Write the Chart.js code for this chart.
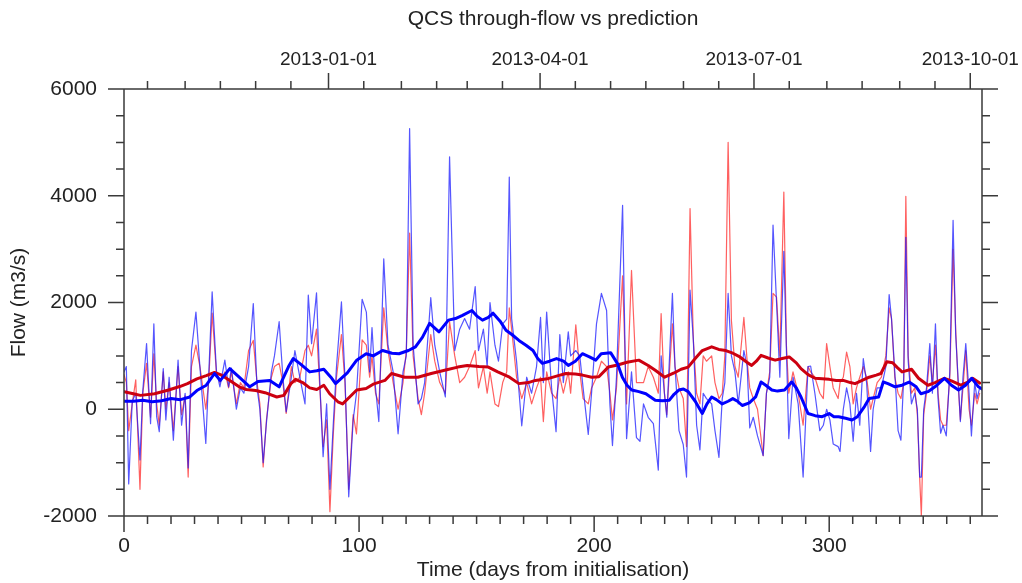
<!DOCTYPE html>
<html>
<head>
<meta charset="utf-8">
<title>QCS through-flow vs prediction</title>
<script src="https://cdn.jsdelivr.net/npm/chart.js@4.4.1/dist/chart.umd.min.js"></script>
<style>
  html, body { margin: 0; padding: 0; background: #fff; }
  #wrap { position: relative; width: 1022px; height: 583px; }
</style>
</head>
<body>
<div id="wrap"><canvas id="flow-chart"></canvas></div>
<script>
// Daily values (days from initialisation)
const dailyDays = [
  0, 1, 2, 3.5, 5, 6.8, 8, 9.6, 11.3, 12.7, 13.9, 15, 16.7, 17.8, 19.2, 21, 23, 24.5, 26, 27.3,
  28.7, 30.6, 32.3, 34.8, 36, 37.5, 39.3, 40.8, 42.9, 44.5, 45.7, 47.8, 49.5, 51, 53, 55, 56.6, 57.8, 59.2, 60.6,
  62.7, 64, 66, 67.6, 69, 71.2, 72.7, 74.8, 77, 78.4, 79.8, 81.9, 83.3, 84.7, 86.2, 87.6, 89, 90.4, 92.5, 94,
  95.6, 97.5, 98.9, 101.3, 103.1, 104.5, 105.5, 107, 108.4, 110.5, 112.3, 114.5, 116.6, 118.7, 120.1, 121.5, 123, 125.1, 126.5, 127.9,
  130.5, 132.2, 134.3, 136.7, 138.5, 140.7, 142.8, 144.9, 147, 149.4, 150.8, 152.9, 154.5, 155.7, 157.8, 159.3, 161.1, 162.8, 163.9, 164.9,
  167, 169.2, 171.3, 173.4, 175.5, 177.2, 178.4, 179.8, 181.9, 183.8, 185.4, 186.9, 189, 190, 192.2, 193.9, 195.3, 197.5, 198.9, 201,
  203.1, 205.3, 206.7, 207.8, 209.5, 212.1, 213.8, 215.9, 218, 219.5, 221, 223, 225.2, 227.3, 228.5, 229.9, 230.9, 233.3, 234.4, 236.1,
  237.9, 239.3, 240.8, 242.2, 243.6, 245, 246.4, 247.8, 250, 251.4, 253.1, 254.5, 255.6, 257, 258.4, 259.9, 261.3, 263.7, 265.1, 266.2,
  267.7, 269.5, 271.9, 273.3, 274.7, 276.1, 277.6, 279, 280.7, 281.8, 282.8, 284.6, 286.8, 288.9, 291, 292.1, 293.9, 296, 297.5, 298.9,
  300.3, 301.7, 303.8, 304.6, 306, 307.4, 308.8, 310.2, 311.6, 313, 314.5, 315.9, 317.6, 318.7, 320.4, 322.2, 324.1, 325.5, 326.5, 327.9,
  329.3, 330.5, 331.7, 332.6, 333.6, 335, 336.4, 337.5, 338.5, 339.2, 340.2, 341.4, 342.8, 343.9, 345.2, 346.3, 347.4, 348.4, 349.8, 351.3,
  352.7, 353.8, 354.8, 355.8, 356.9, 358.1, 359.5, 360.5, 361.9, 362.9, 364
];

// thin blue line
const observedFlow = [
  700, 800, -1400, 150, 300, -950, 350, 1230, -270, 1600, -140, -420, 760, -200, 600, -580, 920, -300, 300, -1100,
  1100, 1820, 790, -640, 600, 2200, 730, 420, 920, 420, 770, 0, 400, 300, 800, 1980, 400, 0, -1000, -250,
  700, 1000, 1640, 600, -50, 600, 1100, 600, 100, 2140, 1230, 2180, 500, -890, 100, -1500, -300, 800, 2010, 600,
  -1640, -200, 300, 2060, 1820, 700, 1530, 400, -230, 2820, 1200, 700, -460, 700, 1000, 5260, 1200, 100, 200, 500,
  2090, 1200, 700, 230, 4730, 1100, 1500, 1700, 1500, 2300, 1100, 1500, 800, 2000, 1200, 900, 1600, 1690, 4350, 1700,
  900, -310, 600, 300, 800, 1720, 500, 1820, 400, -420, 1400, 500, 1450, 1000, 1100, 1000, 400, -470, 300, 1600,
  2170, 1850, 100, -680, 600, 3820, -550, 700, -530, -600, 100, -150, -270, -1140, 1000, 300, -150, 2170, 800, -400,
  -660, -1270, 2230, 1300, -300, -760, 300, 200, 100, -400, -900, 200, 500, 2170, 1000, 700, 100, 1100, 800, -350,
  -150, -500, -870, 300, 600, 3450, 2000, 600, 2960, 1100, -550, 600, 100, -1270, 800, 810, 300, -400, -300, 0,
  -200, -650, -700, -790, 0, 400, 100, -600, 300, -300, 950, 500, -790, 0, 400, 400, 800, 2150, 1700, 700,
  -400, -580, 600, 3220, 900, 100, 300, 0, -1270, -1270, 0, 400, 1230, 300, 1600, 200, -450, -300, -500, 700,
  3540, 1400, 600, -230, 600, 1230, 300, -500, 500, 200, 400
];

// thin red line
const predictedFlow = [
  650, 500, -400, 100, 550, -1500, 300, 860, -150, 1040, 100, -300, 700, 0, 500, -400, 800, -100, 250, -1270,
  800, 1200, 800, 0, 500, 1800, 700, 500, 700, 400, 700, 100, 500, 400, 1100, 1290, 500, 100, -1080, -200,
  600, 800, 860, 500, -80, 800, 500, 600, 1100, 1200, 1000, 1500, 400, -700, -200, -1920, -500, 600, 1400, 500,
  -1500, -100, -460, 1300, 1200, 600, 1000, 300, 100, 1900, 1100, 500, 0, 500, 1100, 3300, 1000, 200, -100, 300,
  1400, 900, 500, 300, 1640, 1000, 500, 600, 800, 1100, 400, 800, 300, 700, 100, 50, 500, 700, 1900, 1500,
  600, 200, 500, 100, 400, 600, -230, 700, 300, 200, 600, 300, 700, 300, 1580, 700, 200, 100, 400, 600,
  900, 800, 300, -200, 400, 2500, 100, 2600, 500, 500, 500, 800, 600, 300, 1790, 300, -100, 1600, 800, 400,
  200, -700, 3760, 1300, 300, 100, 1000, 900, 1000, 500, 200, 300, 1000, 5000, 1660, 800, 600, 1720, 900, 400,
  200, 0, -870, 300, 700, 2170, 2100, 1000, 4070, 1200, 300, 700, 300, -300, 800, 700, 600, 300, 200, 1230,
  800, 400, 200, 500, 600, 1070, 800, 100, 400, 600, 800, 600, 0, 200, 500, 600, 1000, 1900, 1700, 600,
  300, 200, 500, 3990, 1000, 300, 400, -100, -1300, -2000, -100, 300, 1000, 500, 1200, 300, -200, -300, -300, 600,
  3000, 1500, 500, -200, 400, 1100, 0, -300, 300, 100, 300
];

// thick blue line (running mean)
const meanObsDays = [
  0, 4, 8, 12, 16, 20, 24, 28, 31, 35, 38.5, 41, 45, 49, 53.5, 57, 62, 66, 70, 72,
  75, 79, 82, 85, 88, 90, 93, 95, 99, 103, 106, 110, 114, 117, 121, 124, 127, 130, 134, 138,
  141, 144, 148, 150, 152.5, 155, 157, 160, 162.5, 165, 168, 171, 174, 176, 178, 181, 184, 187, 189, 192,
  195, 198, 200.7, 203, 207, 210, 212, 214, 216, 219, 222, 224, 226, 229, 232, 234, 236, 238, 240, 243,
  246, 248, 250, 252, 254.5, 257, 259, 261, 263, 266, 268.7, 271, 273, 275.6, 278, 281, 284, 286, 288, 291,
  294, 297, 300, 302, 304, 307, 309.7, 312, 315, 317, 321, 323, 325, 328, 331, 334, 337, 339, 342, 345,
  349, 352, 355, 358, 360.6, 363.5, 365
];
const meanObsFlow = [
  150, 150, 170, 140, 160, 200, 180, 230, 350, 450, 670, 540, 760, 600, 420, 520, 540, 420, 800, 950,
  850, 700, 720, 750, 600, 480, 600, 680, 920, 1040, 1000, 1100, 1050, 1040, 1100, 1170, 1350, 1610, 1450, 1670,
  1700, 1760, 1850, 1750, 1670, 1720, 1800, 1650, 1480, 1400, 1290, 1200, 1100, 950, 860, 900, 950, 900, 820, 900,
  1040, 980, 920, 1040, 1060, 850, 600, 450, 360, 330, 290, 230, 170, 160, 170, 280, 360, 380, 330, 150,
  -80, 100, 230, 180, 100, 150, 200, 150, 70, 120, 230, 510, 450, 360, 340, 360, 510, 400, 230, -80,
  -120, -140, -80, -140, -140, -170, -200, -140, 50, 200, 230, 510, 480, 420, 450, 510, 420, 290, 330, 420,
  580, 450, 360, 450, 580, 420, 380
];

// thick red line (running mean)
const meanPredDays = [
  0, 4, 7, 13, 19, 24, 27, 31, 35, 38.5, 41, 45, 49, 52, 56, 60, 65, 68, 71, 73,
  76, 79, 82, 85, 87.5, 91, 93, 96, 99, 103, 106, 111, 113.8, 119.4, 125, 130.7, 136.4, 142, 146, 151,
  155, 159, 164, 168, 172, 175, 180, 184, 188, 192, 195, 199, 202, 206, 210, 214, 219, 223, 226, 230,
  234, 237, 240, 243, 246, 250, 253, 256, 259, 262, 265, 267, 269, 271, 274, 277, 280, 283, 286, 288,
  291, 294, 297, 300, 303, 306, 309, 311, 314, 317, 320, 322, 324.5, 327, 329, 331, 335, 338, 342, 345,
  349, 352, 356, 359, 361, 364
];
const meanPredFlow = [
  330, 290, 260, 290, 360, 430, 480, 570, 630, 690, 650, 540, 420, 370, 350, 310, 230, 260, 480, 560,
  500, 400, 370, 450, 290, 140, 100, 230, 360, 390, 470, 540, 670, 600, 600, 670, 730, 790, 820, 800,
  790, 700, 600, 480, 500, 540, 570, 620, 670, 660, 640, 600, 610, 790, 830, 880, 920, 820, 730, 600,
  680, 750, 790, 950, 1100, 1170, 1120, 1100, 1050, 980, 880, 820, 900, 1010, 960, 920, 950, 980, 870, 760,
  650, 580, 570, 560, 540, 540, 500, 480, 540, 600, 640, 670, 890, 870, 780, 700, 750, 580, 450, 500,
  580, 530, 450, 510, 580, 490
];

// Axis tick labels
const dayTicks = [0, 100, 200, 300];
const flowTicks = [-2000, 0, 2000, 4000, 6000];
const dateLabels = ['2013-01-01', '2013-04-01', '2013-07-01', '2013-10-01'];
const startDate = Date.UTC(2012, 9, 6);

const FONT = "'Liberation Sans', Arial, Helvetica, sans-serif";
const TEXT = '#222';
const AXIS = '#3a3a3a';

function daysFromStart(ms) {
    return (ms - startDate) / 86400000;
}

function dateTickDays() {
    return dateLabels.map(label => daysFromStart(Date.parse(label + 'T00:00:00Z')));
}

// minor date ticks on the 1st and 16th of each month
function minorDateTicks() {
    const out = [];
    for (let m = 9; m < 9 + 13; m++) {
        const y = 2012 + Math.floor(m / 12);
        [1, 16].forEach(dom => {
            const d = daysFromStart(Date.UTC(y, m % 12, dom));
            if (d >= 0 && d <= 365) out.push(d);
        });
    }
    return out;
}

function toPoints(xs, ys) {
    return xs.map((x, i) => ({ x: x, y: ys[i] }));
}

// Draws the frame box and the outward tick marks
const axisFrame = {
    id: 'axisFrame',
    afterDraw(chart) {
        const { ctx, chartArea: a, scales } = chart;
        ctx.save();
        ctx.strokeStyle = AXIS;
        ctx.lineWidth = 1.5;
        ctx.beginPath();
        ctx.rect(a.left, a.top, a.right - a.left, a.bottom - a.top);

        for (let d = 0; d <= 365; d += 10) {
            const x = scales.x.getPixelForValue(d);
            const len = dayTicks.includes(d) ? 16 : 8;
            ctx.moveTo(x, a.bottom);
            ctx.lineTo(x, a.bottom + len);
        }

        const majors = dateTickDays();
        minorDateTicks().forEach(d => {
            const x = scales.x2.getPixelForValue(d);
            const len = majors.some(m => Math.abs(m - d) < 0.01) ? 16 : 8;
            ctx.moveTo(x, a.top);
            ctx.lineTo(x, a.top - len);
        });

        for (let v = -2000; v <= 6000; v += 500) {
            const y = scales.y.getPixelForValue(v);
            const len = flowTicks.includes(v) ? 16 : 8;
            ctx.moveTo(a.left, y);
            ctx.lineTo(a.left - len, y);
            ctx.moveTo(a.right, y);
            ctx.lineTo(a.right + len, y);
        }
        ctx.stroke();
        ctx.restore();
    }
};

function fixedTicks(values) {
    return scale => { scale.ticks = values.map(v => ({ value: v })); };
}

// fixed box sizes so the plot area sits where it does in the original
function fixHeight(h) {
    return scale => { scale.height = h; scale.paddingLeft = 0; scale.paddingRight = 0; };
}
function fixWidth(w) {
    return scale => { scale.width = w; scale.paddingTop = 0; scale.paddingBottom = 0; };
}

document.addEventListener('DOMContentLoaded', () => {
    const ctx = document.getElementById('flow-chart').getContext('2d');

    new Chart(ctx, {
        type: 'line',
        data: {
            datasets: [
                { data: toPoints(meanObsDays, meanObsFlow), borderColor: '#0000ff', borderWidth: 3 },
                { data: toPoints(meanPredDays, meanPredFlow), borderColor: '#cc0010', borderWidth: 3 },
                { data: toPoints(dailyDays, observedFlow), borderColor: 'rgba(20, 20, 255, 0.72)', borderWidth: 1.2 },
                { data: toPoints(dailyDays, predictedFlow), borderColor: 'rgba(255, 20, 20, 0.68)', borderWidth: 1.2 }
            ]
        },
        options: {
            responsive: true,
            maintainAspectRatio: false,
            animation: false,
            events: [],
            layout: { padding: 0 },
            elements: {
                point: { radius: 0 },
                line: { tension: 0, borderJoinStyle: 'round', borderCapStyle: 'round' }
            },
            plugins: {
                legend: { display: false },
                tooltip: { enabled: false },
                title: {
                    display: true,
                    text: 'QCS through-flow vs prediction',
                    fullSize: false,
                    color: TEXT,
                    font: { family: FONT, size: 21, weight: 'normal', lineHeight: '26px' },
                    padding: { top: 6, bottom: 0 }
                }
            },
            scales: {
                x: {
                    type: 'linear',
                    position: 'bottom',
                    min: 0,
                    max: 365,
                    afterBuildTicks: fixedTicks(dayTicks),
                    afterFit: fixHeight(67),
                    grid: { display: false, drawTicks: false },
                    border: { display: false },
                    ticks: {
                        color: TEXT,
                        font: { family: FONT, size: 21, lineHeight: '25px' },
                        padding: 18,
                        maxRotation: 0,
                        autoSkip: false,
                        callback: v => String(v)
                    },
                    title: {
                        display: true,
                        text: 'Time (days from initialisation)',
                        color: TEXT,
                        font: { family: FONT, size: 21, lineHeight: '25px' },
                        padding: { top: 0, bottom: 0 }
                    }
                },
                x2: {
                    type: 'linear',
                    position: 'top',
                    min: 0,
                    max: 365,
                    afterBuildTicks: scale => { scale.ticks = dateTickDays().map(v => ({ value: v })); },
                    afterFit: fixHeight(57),
                    grid: { display: false, drawTicks: false },
                    border: { display: false },
                    ticks: {
                        color: TEXT,
                        font: { family: FONT, size: 19, lineHeight: '23px' },
                        padding: 18,
                        maxRotation: 0,
                        autoSkip: false,
                        callback: (v, i) => dateLabels[i]
                    }
                },
                y: {
                    type: 'linear',
                    position: 'left',
                    min: -2000,
                    max: 6000,
                    afterBuildTicks: fixedTicks(flowTicks),
                    afterFit: fixWidth(124),
                    grid: { display: false, drawTicks: false },
                    border: { display: false },
                    ticks: {
                        color: TEXT,
                        font: { family: FONT, size: 21 },
                        padding: 27,
                        autoSkip: false,
                        callback: v => String(v)
                    },
                    title: {
                        display: true,
                        text: 'Flow (m3/s)',
                        color: TEXT,
                        font: { family: FONT, size: 21, lineHeight: '25px' },
                        padding: { top: 7, bottom: 0 }
                    }
                },
                y2: {
                    type: 'linear',
                    position: 'right',
                    min: -2000,
                    max: 6000,
                    afterFit: fixWidth(40),
                    grid: { display: false, drawTicks: false },
                    border: { display: false },
                    ticks: { display: false }
                }
            }
        },
        plugins: [axisFrame]
    });
});
</script>
</body>
</html>
